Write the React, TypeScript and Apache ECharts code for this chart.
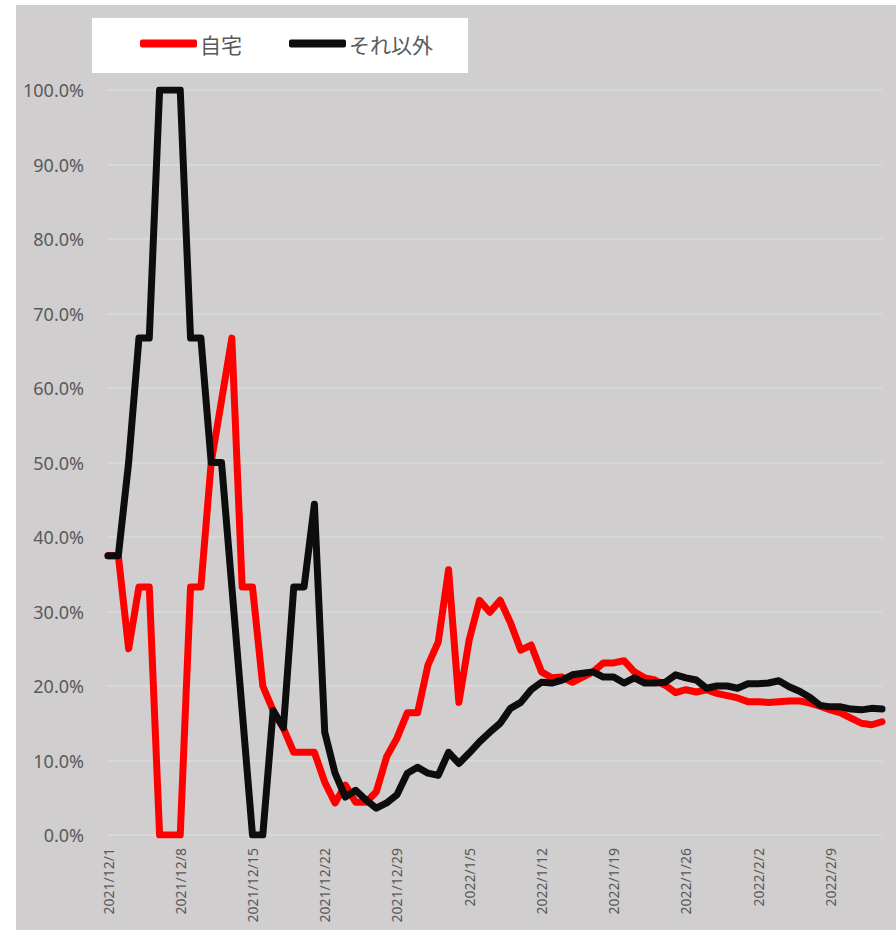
import React, { useEffect, useRef } from "react";
import * as echarts from "echarts";

const dates: string[] = [
  "2021/12/1", "2021/12/2", "2021/12/3", "2021/12/4", "2021/12/5", "2021/12/6", "2021/12/7",
  "2021/12/8", "2021/12/9", "2021/12/10", "2021/12/11", "2021/12/12", "2021/12/13", "2021/12/14",
  "2021/12/15", "2021/12/16", "2021/12/17", "2021/12/18", "2021/12/19", "2021/12/20", "2021/12/21",
  "2021/12/22", "2021/12/23", "2021/12/24", "2021/12/25", "2021/12/26", "2021/12/27", "2021/12/28",
  "2021/12/29", "2021/12/30", "2021/12/31", "2022/1/1", "2022/1/2", "2022/1/3", "2022/1/4",
  "2022/1/5", "2022/1/6", "2022/1/7", "2022/1/8", "2022/1/9", "2022/1/10", "2022/1/11",
  "2022/1/12", "2022/1/13", "2022/1/14", "2022/1/15", "2022/1/16", "2022/1/17", "2022/1/18",
  "2022/1/19", "2022/1/20", "2022/1/21", "2022/1/22", "2022/1/23", "2022/1/24", "2022/1/25",
  "2022/1/26", "2022/1/27", "2022/1/28", "2022/1/29", "2022/1/30", "2022/1/31", "2022/2/1",
  "2022/2/2", "2022/2/3", "2022/2/4", "2022/2/5", "2022/2/6", "2022/2/7", "2022/2/8",
  "2022/2/9", "2022/2/10", "2022/2/11", "2022/2/12", "2022/2/13", "2022/2/14",
];

// 自宅 (%)
const homeValues: number[] = [
  37.5, 37.5, 25.0, 33.3, 33.3, 0, 0, 0, 33.3, 33.3,
  50.0, 58.3, 66.7, 33.3, 33.3, 20.0, 16.7, 14.3, 11.1, 11.1,
  11.1, 7.1, 4.3, 6.7, 4.4, 4.4, 5.8, 10.5, 13.0, 16.4,
  16.4, 22.8, 25.9, 35.6, 17.8, 26.2, 31.5, 29.9, 31.5, 28.5,
  24.8, 25.5, 21.9, 21.1, 21.2, 20.5, 21.2, 21.9, 23.1, 23.1,
  23.4, 21.9, 21.1, 20.8, 20.1, 19.1, 19.5, 19.2, 19.5, 19.0,
  18.7, 18.4, 17.9, 17.9, 17.8, 17.9, 18.0, 18.0, 17.7, 17.3,
  16.8, 16.4, 15.7, 15.0, 14.8, 15.2,
];

// それ以外 (%)
const otherValues: number[] = [
  37.5, 37.5, 50.0, 66.7, 66.7, 100, 100, 100, 66.7, 66.7,
  50.0, 50.0, 33.3, 16.7, 0, 0, 16.7, 14.4, 33.3, 33.3,
  44.4, 13.8, 8.3, 5.1, 6.0, 4.7, 3.6, 4.3, 5.4, 8.3,
  9.1, 8.3, 8.0, 11.1, 9.6, 11.0, 12.5, 13.8, 15.0, 17.0,
  17.8, 19.5, 20.5, 20.4, 20.8, 21.5, 21.7, 21.9, 21.2, 21.2,
  20.4, 21.1, 20.4, 20.4, 20.5, 21.5, 21.1, 20.8, 19.7, 20.0,
  20.0, 19.7, 20.3, 20.3, 20.4, 20.7, 19.9, 19.3, 18.5, 17.4,
  17.2, 17.2, 16.9, 16.8, 17.0, 16.9,
];

const seriesNames = ["自宅", "それ以外"];

export default function App() {
  const ref = useRef<HTMLDivElement>(null);
  useEffect(() => {
    if (!ref.current) return;
    const chart = echarts.init(ref.current, null, { renderer: "svg" });
    const textColor = "#595959";
    chart.setOption({
      animation: false,
      backgroundColor: "#d0cecf",
      graphic: [
        {
          type: "rect",
          left: 76,
          top: 13,
          shape: { width: 376, height: 55 },
          style: { fill: "#ffffff" },
          z: 0,
        },
      ],
      legend: {
        data: seriesNames,
        left: 124,
        top: 28,
        padding: 0,
        itemWidth: 57,
        itemHeight: 8,
        itemGap: 47,
        icon: "roundRect",
        textStyle: {
          color: textColor,
          fontSize: 21,
          fontFamily: "Noto Sans CJK JP",
          padding: [0, 0, 0, -2],
        },
        z: 5,
      },
      grid: { left: 92, right: 14, top: 85, bottom: 95, containLabel: false },
      xAxis: {
        type: "category",
        data: dates,
        boundaryGap: false,
        axisLine: { show: false },
        axisTick: { show: false },
        axisLabel: {
          interval: 6,
          rotate: 90,
          margin: 13,
          color: textColor,
          fontSize: 14,
          fontFamily: "Noto Sans",
        },
        splitLine: { show: false },
      },
      yAxis: {
        type: "value",
        min: 0,
        max: 100,
        interval: 10,
        axisLine: { show: false },
        axisTick: { show: false },
        axisLabel: {
          margin: 24,
          color: textColor,
          fontSize: 18,
          fontFamily: "Noto Sans",
          formatter: (v: number) => `${v.toFixed(1)}%`,
        },
        splitLine: { lineStyle: { color: "#dddbdc", width: 1.5 } },
      },
      series: [
        {
          name: seriesNames[0],
          type: "line",
          data: homeValues,
          symbol: "none",
          itemStyle: { color: "#ff0000" },
          lineStyle: { color: "#ff0000", width: 7, join: "round", cap: "round" },
          z: 2,
        },
        {
          name: seriesNames[1],
          type: "line",
          data: otherValues,
          symbol: "none",
          itemStyle: { color: "#0d0d0d" },
          lineStyle: { color: "#0d0d0d", width: 7, join: "round", cap: "round" },
          z: 3,
        },
      ],
    });
    return () => chart.dispose();
  }, []);
  return (
    <div
      ref={ref}
      style={{ position: "absolute", left: 16, top: 5, width: 880, height: 925 }}
    />
  );
}
